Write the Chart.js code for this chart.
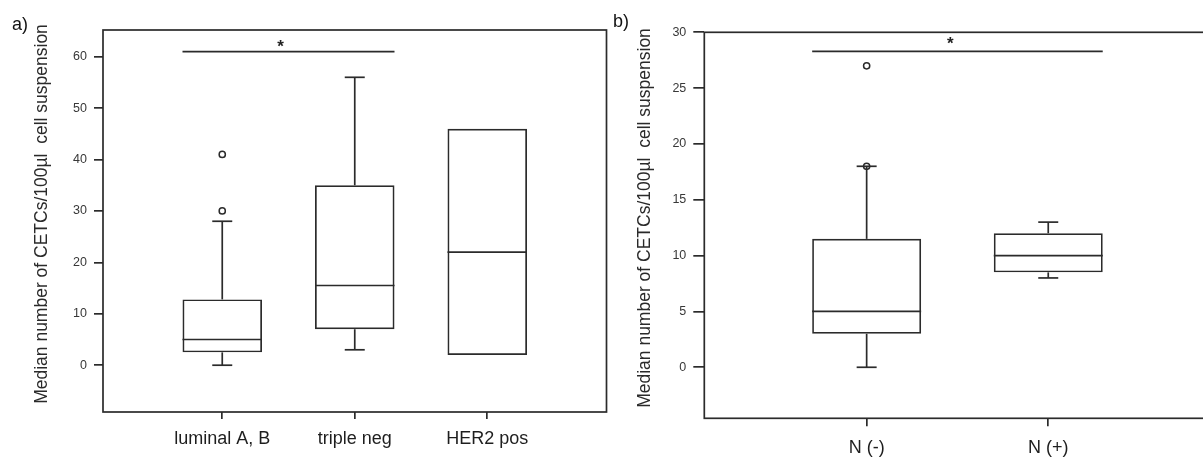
<!DOCTYPE html>
<html><head><meta charset="utf-8">
<script src="https://cdn.jsdelivr.net/npm/chart.js@4/dist/chart.umd.min.js"></script>
<style>
html,body{margin:0;padding:0;background:#fff;overflow:hidden;width:1203px;height:457px;position:relative;}
#ca{position:absolute;left:0;top:0;}
#cb{position:absolute;left:611px;top:0;}
</style></head><body>
<canvas id="ca" width="612" height="457"></canvas>
<canvas id="cb" width="620" height="457"></canvas>
<script>
// ---- Panel a data ----
const catsA = ['luminal A, B', 'triple neg', 'HER2 pos'];
const loA   = [0, 3, null];
const q1A   = [2.5, 7, 2];
const medA  = [5, 15.5, 22];
const q3A   = [12.8, 35, 46];
const hiA   = [28, 56, null];
const outA  = [[30, 41], [], []];
const yTicksA = [0, 10, 20, 30, 40, 50, 60];
const sigA  = {from: 0.7, to: 2.3, y: 61, starX: 1.44, starY: 62.6};

// ---- Panel b data ----
const catsB = ['N (-)', 'N (+)'];
const loB   = [0, 8];
const q1B   = [3, 8.5];
const medB  = [5, 10];
const q3B   = [11.5, 12];
const hiB   = [18, 13];
const outB  = [[18, 27], []];
const yTicksB = [0, 5, 10, 15, 20, 25, 30];
const sigB  = {from: 0.7, to: 2.3, y: 28.3, starX: 1.46, starY: 29.3};

const YTITLE = 'Median number of CETCs/100\u00b5l  cell suspension';
const LINE = '#2b2b2b';
const LW = 1.7;
const FONT = "'Liberation Sans', Arial, sans-serif";

const boxPlugin = {
  id: 'boxExtras',
  beforeDatasetsDraw(chart, args, o) {
    const {ctx, chartArea: ca, scales: {x, y}} = chart;
    ctx.save();
    ctx.strokeStyle = LINE; ctx.lineWidth = LW;
    const ln = (x1, y1, x2, y2) => { ctx.beginPath(); ctx.moveTo(x1, y1); ctx.lineTo(x2, y2); ctx.stroke(); };
    ctx.strokeRect(ca.left, ca.top, ca.right - ca.left, ca.bottom - ca.top);
    const bars = chart.getDatasetMeta(0).data;
    o.q1.forEach((q1, i) => {
      const cx = x.getPixelForValue(i + 1);
      const h = o.cap / 2;
      if (o.lo[i] !== null) {
        const yl = y.getPixelForValue(o.lo[i]);
        ln(cx, y.getPixelForValue(q1), cx, yl); ln(cx - h, yl, cx + h, yl);
      }
      if (o.hi[i] !== null) {
        const yh = y.getPixelForValue(o.hi[i]);
        ln(cx, y.getPixelForValue(o.q3[i]), cx, yh); ln(cx - h, yh, cx + h, yh);
      }
      const b = bars[i].getProps(['x', 'width'], true);
      const ym = y.getPixelForValue(o.med[i]);
      ln(b.x - b.width / 2, ym, b.x + b.width / 2, ym);
    });
    const s = o.sig;
    const ys = y.getPixelForValue(s.y);
    ln(x.getPixelForValue(s.from), ys, x.getPixelForValue(s.to), ys);
    ctx.fillStyle = '#222';
    ctx.font = 'bold 17px ' + FONT;
    ctx.textAlign = 'center'; ctx.textBaseline = 'middle';
    ctx.fillText('*', x.getPixelForValue(s.starX), y.getPixelForValue(s.starY) + 4);
    ctx.restore();
  },
  afterDraw(chart, args, o) {
    const ctx = chart.ctx;
    ctx.save();
    ctx.fillStyle = '#111';
    ctx.font = '18px ' + FONT;
    ctx.textAlign = 'left'; ctx.textBaseline = 'alphabetic';
    ctx.fillText(o.tag, o.tagX, o.tagY);
    // y-axis title
    ctx.translate(o.titleX, o.titleY);
    ctx.rotate(-Math.PI / 2);
    ctx.fillStyle = '#2a2a2a';
    ctx.font = '17.5px ' + FONT;
    ctx.textAlign = 'center'; ctx.textBaseline = 'middle';
    ctx.fillText(YTITLE, 0, 0);
    ctx.restore();
  }
};

function makeChart(id, cfg) {
  const boxes = cfg.cats.map((c, i) => ({x: i + 1, y: [cfg.q1[i], cfg.q3[i]]}));
  const outs = [];
  cfg.outs.forEach((arr, i) => arr.forEach(v => outs.push({x: i + 1, y: v})));
  return new Chart(document.getElementById(id), {
    type: 'bar',
    data: {
      datasets: [
        {type: 'bar', data: boxes, backgroundColor: 'rgba(0,0,0,0)', borderColor: LINE,
         borderWidth: LW, borderSkipped: false, categoryPercentage: 0.8, barPercentage: 0.75},
        {type: 'scatter', data: outs, pointStyle: 'circle', pointRadius: 3.1,
         pointBorderColor: LINE, pointBackgroundColor: 'rgba(0,0,0,0)', pointBorderWidth: 1.5}
      ]
    },
    options: {
      responsive: false, animation: false, devicePixelRatio: 1,
      layout: {padding: {top: cfg.padTop, right: cfg.padRight, left: 0, bottom: 0}},
      plugins: {
        legend: {display: false}, tooltip: {enabled: false},
        boxExtras: {lo: cfg.lo, q1: cfg.q1, med: cfg.med, q3: cfg.q3, hi: cfg.hi, cap: 20,
                    sig: cfg.sig, tag: cfg.tag, tagX: cfg.tagX, tagY: cfg.tagY,
                    titleX: cfg.titleX, titleY: cfg.titleY}
      },
      scales: {
        x: {
          type: 'linear', min: cfg.xMin, max: cfg.xMax, offset: false,
          afterBuildTicks: ax => { ax.ticks = cfg.cats.map((c, i) => ({value: i + 1})); },
          afterFit: sc => { sc.height = cfg.xH; },
          border: {display: false},
          grid: {display: true, drawOnChartArea: false, drawTicks: true, offset: false,
                 tickLength: cfg.xTick, color: LINE, lineWidth: LW},
          ticks: {autoSkip: false, maxRotation: 0, padding: cfg.xPad, color: '#1e1e1e',
                  font: {family: FONT, size: 18}, callback: v => cfg.cats[v - 1]}
        },
        y: {
          type: 'linear', min: cfg.yMin, max: cfg.yMax, beginAtZero: false,
          afterBuildTicks: ax => { ax.ticks = cfg.yTicks.map(v => ({value: v})); },
          afterFit: sc => { sc.width = cfg.yW; },
          border: {display: false},
          grid: {display: true, drawOnChartArea: false, drawTicks: true,
                 tickLength: cfg.yTick, color: LINE, lineWidth: LW},
          ticks: {padding: 7, color: '#383838', font: {family: FONT, size: 12.5},
                  callback: v => String(v)},
          title: {display: false}
        }
      }
    },
    plugins: [boxPlugin]
  });
}

makeChart('ca', {
  cats: catsA, lo: loA, q1: q1A, med: medA, q3: q3A, hi: hiA, outs: outA, yTicks: yTicksA,
  sig: sigA, yMin: -9.1, yMax: 65.2, xMin: 0.1, xMax: 3.9,
  padTop: 30, padRight: 1.5, xH: 45, yW: 103, xTick: 7, yTick: 9, xPad: 9,
  tag: 'a)', tagX: 12, tagY: 30, titleX: 42.5, titleY: 214
});
makeChart('cb', {
  cats: catsB, lo: loB, q1: q1B, med: medB, q3: q3B, hi: hiB, outs: outB, yTicks: yTicksB,
  sig: sigB, yMin: -4.57, yMax: 30, xMin: 0.106, xMax: 2.894,
  padTop: 32.3, padRight: 20.4, xH: 38.7, yW: 93.3, xTick: 8, yTick: 11, xPad: 11,
  tag: 'b)', tagX: 2, tagY: 27, titleX: 34.5, titleY: 218
});
</script>
</body></html>
